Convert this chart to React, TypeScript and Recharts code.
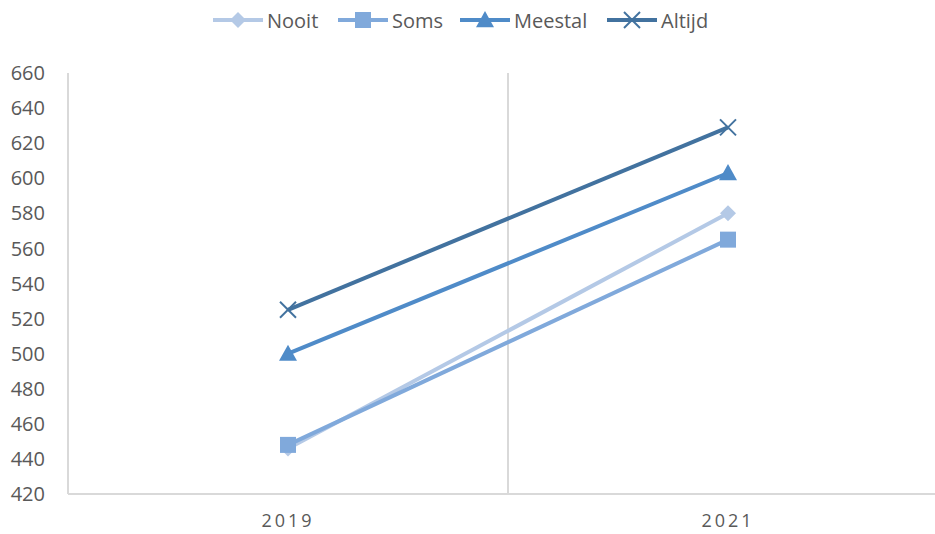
import React from "react";
import { LineChart, Line, XAxis, YAxis, ReferenceLine } from "recharts";

const years = ["2019", "2021"];
const nooit = [446, 580];
const soms = [448, 565];
const meestal = [500, 603];
const altijd = [525, 629];
const yTicks = [420, 440, 460, 480, 500, 520, 540, 560, 580, 600, 620, 640, 660];

const series = [
  { key: "Nooit", values: nooit, color: "#B4C9E6", marker: "diamond" },
  { key: "Soms", values: soms, color: "#80A9DB", marker: "square" },
  { key: "Meestal", values: meestal, color: "#4F8BC8", marker: "triangle" },
  { key: "Altijd", values: altijd, color: "#42729F", marker: "cross" },
];

const data = years.map((year, i) => {
  const row: Record<string, any> = { year, x: i + 0.5 };
  series.forEach((s) => (row[s.key] = s.values[i]));
  return row;
});

function Marker({ type, cx, cy, color }: { type: string; cx: number; cy: number; color: string }) {
  if (type === "diamond") {
    const r = 8;
    return <polygon points={`${cx},${cy - r} ${cx + r},${cy} ${cx},${cy + r} ${cx - r},${cy}`} fill={color} />;
  }
  if (type === "square") {
    const r = 8;
    return <rect x={cx - r} y={cy - r} width={2 * r} height={2 * r} fill={color} />;
  }
  if (type === "triangle") {
    const r = 9;
    return <polygon points={`${cx},${cy - r} ${cx + r},${cy + r * 0.8} ${cx - r},${cy + r * 0.8}`} fill={color} />;
  }
  const r = 8;
  return (
    <g stroke={color} strokeWidth={2}>
      <line x1={cx - r} y1={cy - r} x2={cx + r} y2={cy + r} />
      <line x1={cx - r} y1={cy + r} x2={cx + r} y2={cy - r} />
    </g>
  );
}

const legendX = [213, 338, 460, 607];

function LegendBox() {
  return (
    <svg width={935} height={45} style={{ position: "absolute", left: 0, top: 0 }}>
      {series.map((s, i) => {
        const x = legendX[i];
        return (
          <g key={s.key}>
            <line x1={x} y1={20} x2={x + 50} y2={20} stroke={s.color} strokeWidth={4} />
            <Marker type={s.marker} cx={x + 25} cy={20} color={s.color} />
            <text x={x + 54} y={28} fontSize={20} fill="#595959" fontFamily="'Open Sans', sans-serif">
              {s.key}
            </text>
          </g>
        );
      })}
    </svg>
  );
}

export default function App() {
  return (
    <div style={{ position: "absolute", left: 0, top: 0, width: 935, height: 534, overflow: "hidden", background: "#fff" }}>
      <LineChart width={948} height={534} data={data} margin={{ top: 73, right: 0, left: 0, bottom: 0 }}>
        <XAxis
          type="number"
          dataKey="x"
          domain={[0, years.length]}
          ticks={years.map((_, i) => i + 0.5)}
          tickFormatter={(v: number) => years[Math.floor(v)]}
          height={40}
          stroke="#D9D9D9"
          strokeWidth={2}
          tickLine={false}
          tickSize={0}
          tickMargin={20}
          tick={{ fill: "#595959", fontSize: 18, letterSpacing: 3, fontFamily: "'Open Sans', sans-serif" }}
        />
        <YAxis
          domain={[420, 660]}
          ticks={yTicks}
          width={68}
          stroke="#D9D9D9"
          strokeWidth={2}
          tickLine={false}
          tickSize={0}
          tickMargin={23}
          interval={0}
          tick={{ fill: "#595959", fontSize: 20, fontFamily: "'Open Sans', sans-serif" }}
        />
        <ReferenceLine x={1} stroke="#D9D9D9" strokeWidth={2} />
        {series.map((s) => (
          <Line
            key={s.key}
            dataKey={s.key}
            stroke={s.color}
            strokeWidth={4}
            isAnimationActive={false}
            dot={(p: any) => <Marker key={`${s.key}-${p.index}`} type={s.marker} cx={p.cx} cy={p.cy} color={s.color} />}
            activeDot={false}
          />
        ))}
      </LineChart>
      <LegendBox />
    </div>
  );
}
